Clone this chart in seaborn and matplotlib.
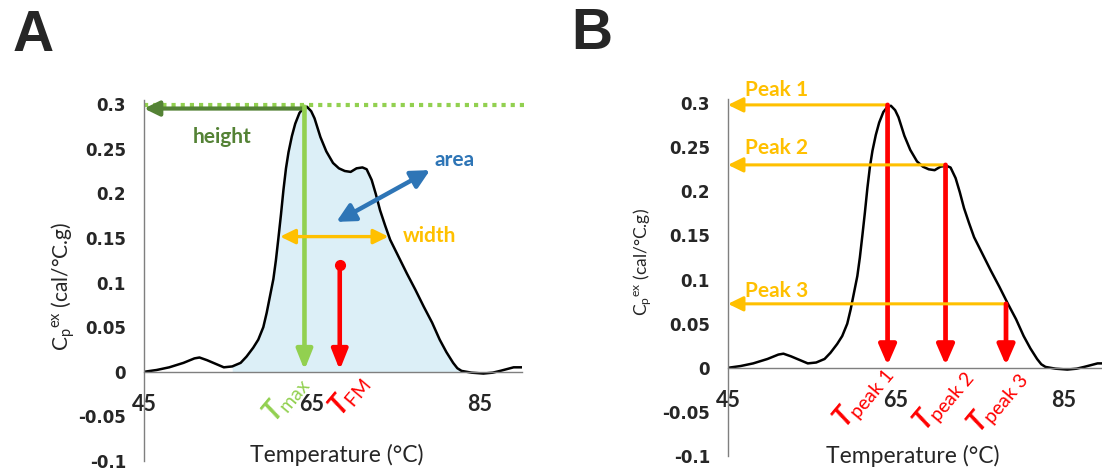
import numpy as np
import pandas as pd
import matplotlib
matplotlib.use('Agg')
import matplotlib.pyplot as plt
import seaborn as sns

# thermogram values
temp = [45.0, 46.5, 48.0, 49.7, 51.0, 51.6, 52.5, 53.5, 54.5, 55.5,
        56.5, 57.2, 58.0, 58.6, 59.2, 59.6, 60.0, 60.4, 60.7, 61.0,
        61.3, 61.6, 61.9, 62.2, 62.6, 63.0, 63.5, 64.0, 64.4, 64.9,
        65.3, 66.0, 66.7, 67.5, 68.2, 68.9, 69.6, 70.3, 71.0, 71.5,
        72.1, 72.6, 73.1, 73.7, 74.3, 75.3, 76.3, 77.3, 78.3, 79.3,
        80.2, 81.0, 81.8, 82.3, 82.8, 84.0, 85.4, 86.5, 87.4, 88.2,
        89.0, 90.0]
cp = [0.000, 0.002, 0.005, 0.010, 0.015, 0.016, 0.013, 0.009, 0.005, 0.006,
      0.010, 0.017, 0.027, 0.036, 0.050, 0.066, 0.085, 0.104, 0.125, 0.150,
      0.176, 0.204, 0.228, 0.246, 0.264, 0.278, 0.290, 0.296, 0.297, 0.292,
      0.284, 0.263, 0.247, 0.234, 0.228, 0.225, 0.224, 0.228, 0.229, 0.227,
      0.215, 0.199, 0.181, 0.164, 0.148, 0.129, 0.110, 0.092, 0.073, 0.055,
      0.036, 0.022, 0.010, 0.004, 0.001, -0.001, -0.002, -0.001, 0.001, 0.003,
      0.005, 0.005]

x_ticks = [45, 65, 85]
y_ticks = [-0.1, -0.05, 0, 0.05, 0.1, 0.15, 0.2, 0.25, 0.3]
y_tick_labels = ['-0.1', '-0.05', '0', '0.05', '0.1', '0.15', '0.2', '0.25', '0.3']

# panel A markers
t_max = 64.1
height = 0.297
t_fm = 68.3
t_fm_top = 0.12
width_range = [61.2, 74.1]
width_level = 0.1515
area_arrow = [(67.9, 0.168), (79.05, 0.226)]
fill_range = [55.5, 83.0]

# panel B markers
peak_names = ['Peak 1', 'Peak 2', 'Peak 3']
peak_temps = [64.0, 70.9, 78.1]
peak_heights = [0.298, 0.230, 0.0725]
peak_labels = [r'$\mathbfit{T}_{\mathrm{peak\ 1}}$', r'$\mathbfit{T}_{\mathrm{peak\ 2}}$',
               r'$\mathbfit{T}_{\mathrm{peak\ 3}}$']

df = pd.DataFrame({'Temperature': temp, 'Cp': cp})

sns.set_style('white')
plt.rcParams['font.family'] = ['Lato', 'DejaVu Sans']
plt.rcParams['mathtext.fontset'] = 'custom'
plt.rcParams['mathtext.rm'] = 'Lato'
plt.rcParams['mathtext.it'] = 'Lato:italic'
plt.rcParams['mathtext.bf'] = 'Lato:bold'
plt.rcParams['mathtext.bfit'] = 'Lato:bold:italic'

GREEN = '#92D050'
DKGREEN = '#548235'
ORANGE = '#FFC000'
BLUE = '#2E75B6'
RED = '#FF0000'
FILL = '#DCEFF7'

fig = plt.figure(figsize=(11.02, 4.71), dpi=100)
axA = fig.add_axes([0.1307, 0.0212, 0.3430, 0.7673])
axB = fig.add_axes([0.6606, 0.0318, 0.3430, 0.7586])


def style_axes(ax):
    ax.set_xlim(45, 90)
    ax.set_ylim(-0.1, 0.305)
    for s in ['top', 'right']:
        ax.spines[s].set_visible(False)
    ax.spines['bottom'].set_position(('data', 0))
    for s in ['left', 'bottom']:
        ax.spines[s].set_color('#7f7f7f')
        ax.spines[s].set_linewidth(1.0)
    ax.set_xticks(x_ticks)
    ax.set_xticklabels([str(t) for t in x_ticks], fontsize=15.5, fontweight='bold')
    ax.set_yticks(y_ticks)
    ax.set_yticklabels(y_tick_labels, fontsize=12, fontweight='bold',
                       family=['DejaVu Sans'])
    ax.tick_params(axis='x', length=0, pad=16)
    ax.tick_params(axis='y', length=0, pad=13)
    ax.set_xlabel('')
    ax.set_ylabel('')


def arrow(ax, start, end, color, lw, style='-|>', hl=0.4, hw=0.2, ms=20):
    ax.annotate('', xy=end, xytext=start,
                arrowprops=dict(arrowstyle=f'{style},head_length={hl},head_width={hw}',
                                color=color, lw=lw, shrinkA=0, shrinkB=0,
                                mutation_scale=ms),
                annotation_clip=False)


# ---------- panel A ----------
ax = axA
mask = (df['Temperature'] >= fill_range[0]) & (df['Temperature'] <= fill_range[1])
ax.fill_between(df['Temperature'][mask], 0, df['Cp'][mask], color=FILL, lw=0)
sns.lineplot(data=df, x='Temperature', y='Cp', ax=ax, color='black', lw=1.8)
style_axes(ax)

ax.plot([45, 90.7], [height + 0.002, height + 0.002], color=GREEN, lw=3,
        ls=(0, (1, 1.2)), clip_on=False)
arrow(ax, (t_max, height - 0.002), (45, height - 0.002), DKGREEN, 3.0, hl=0.45, hw=0.22)
ax.text(54.3, 0.263, 'height', color=DKGREEN, fontsize=15, fontweight='bold',
        ha='center', va='center')
arrow(ax, (t_max, height), (t_max, 0.002), GREEN, 3.3, hl=0.6, hw=0.24)
ax.plot([t_fm], [t_fm_top], 'o', color=RED, ms=7)
arrow(ax, (t_fm, t_fm_top), (t_fm, 0.002), RED, 3.3, hl=0.6, hw=0.24)
arrow(ax, area_arrow[0], area_arrow[1], BLUE, 3.2, style='<|-|>', hl=0.55, hw=0.28)
ax.text(79.6, 0.237, 'area', color=BLUE, fontsize=15, fontweight='bold',
        ha='left', va='center')
arrow(ax, (width_range[0], width_level), (width_range[1], width_level), ORANGE, 2.4,
      style='<|-|>', hl=0.45, hw=0.22)
ax.text(75.8, 0.1525, 'width', color=ORANGE, fontsize=15, fontweight='bold',
        ha='left', va='center')
ax.text(61.9, -0.030, r'$\mathbfit{T}_{\mathrm{max}}$', color=GREEN, fontsize=20,
        rotation=50, ha='center', va='center', rotation_mode='anchor')
ax.text(69.4, -0.026, r'$\mathbfit{T}_{\mathrm{FM}}$', color=RED, fontsize=20,
        rotation=50, ha='center', va='center', rotation_mode='anchor')
ax.text(0.511, 0.017, 'Temperature (°C)', transform=ax.transAxes, fontsize=16.5,
        ha='center', va='center')
ax.text(-0.214, 0.484, r'C$_\mathregular{p}$$^\mathregular{ex}$ (cal/°C.g)',
        transform=ax.transAxes, fontsize=15, rotation=90, ha='center', va='center')

# ---------- panel B ----------
ax = axB
sns.lineplot(data=df, x='Temperature', y='Cp', ax=ax, color='black', lw=1.8)
style_axes(ax)
label_y = [0.315, 0.249, 0.0865]
label_pos = [(61.1, -0.0325), (70.6, -0.036), (77.1, -0.038)]
for name, tp, hp, ly, lab, lp in zip(peak_names, peak_temps, peak_heights,
                                     label_y, peak_labels, label_pos):
    arrow(ax, (tp, hp), (45, hp), ORANGE, 2.2, hl=0.45, hw=0.22)
    ax.text(47.0, ly, name, color=ORANGE, fontsize=15, fontweight='bold',
            ha='left', va='center')
    arrow(ax, (tp, hp), (tp, 0.003), RED, 3.4, hl=0.6, hw=0.26)
    ax.text(lp[0], lp[1], lab, color=RED, fontsize=20, rotation=50,
            ha='center', va='center', rotation_mode='anchor')
ax.text(0.489, 0.0, 'Temperature (°C)', transform=ax.transAxes, fontsize=16.5,
        ha='center', va='center')
ax.text(-0.225, 0.543, r'C$_\mathregular{p}$$^\mathregular{ex}$ (cal/°C.g)',
        transform=ax.transAxes, fontsize=12.5, rotation=90, ha='center', va='center')

fig.text(33 / 1102, 1 - 36 / 471, 'A', fontsize=41, fontweight='bold',
         ha='center', va='center', family=['Liberation Sans', 'DejaVu Sans'])
fig.text(592 / 1102, 1 - 34 / 471, 'B', fontsize=41, fontweight='bold',
         ha='center', va='center', family=['Liberation Sans', 'DejaVu Sans'])

fig.savefig('out.png', dpi=100)
